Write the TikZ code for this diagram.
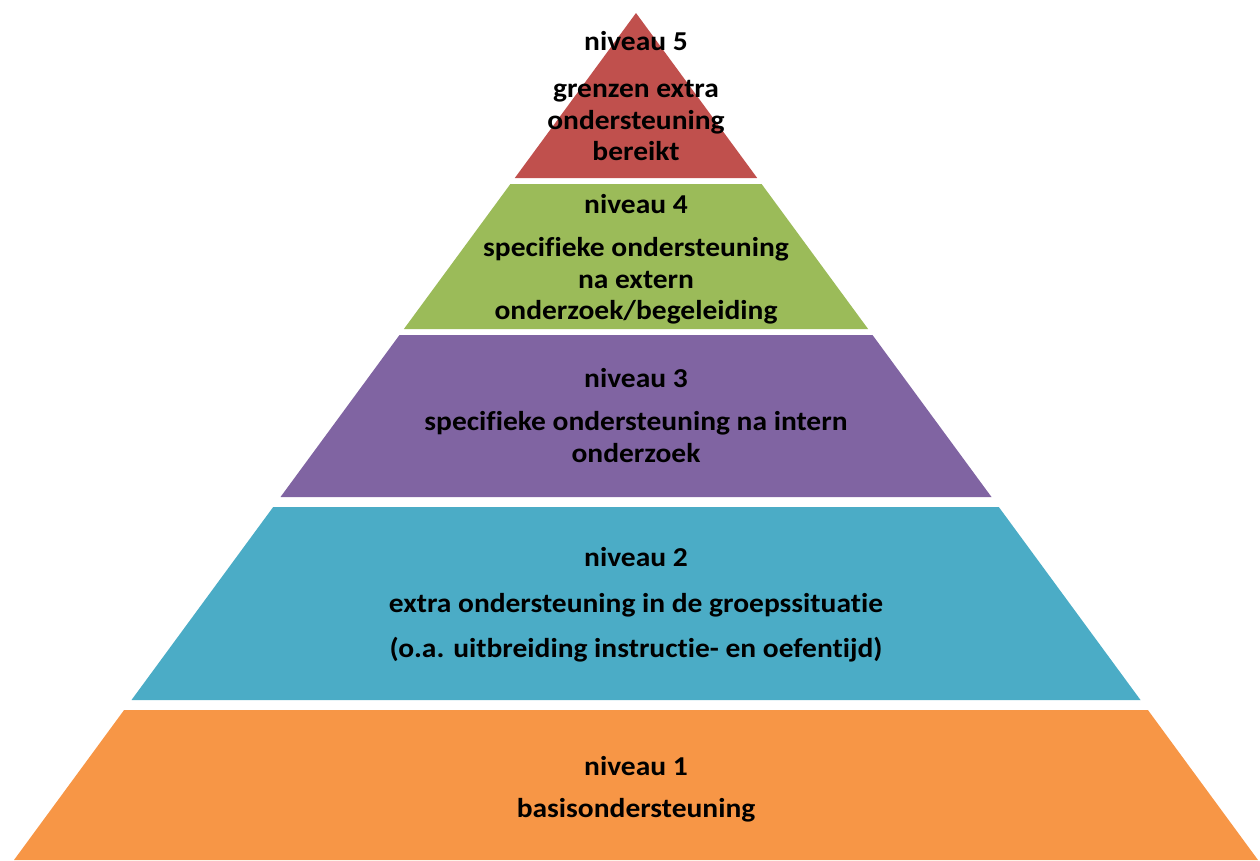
\documentclass[tikz,border=0pt]{standalone}
\usepackage{fontspec}
\setmainfont{Carlito}[Ligatures=NoCommon, FakeStretch=1.08]
\definecolor{lvred}{HTML}{C0504D}
\definecolor{lvgreen}{HTML}{9BBB59}
\definecolor{lvpurple}{HTML}{8064A2}
\definecolor{lvblue}{HTML}{4BACC6}
\definecolor{lvorange}{HTML}{F79646}
\tikzset{
  lbl/.style={anchor=base, align=center, inner sep=0pt, font=\fontsize{27.3}{32}\selectfont\bfseries, text=black},
}
\begin{document}
\begin{tikzpicture}[x=1pt,y=-1pt]
\useasboundingbox (0,0) rectangle (1260,860);
% layers
\fill[lvred] (636,13) -- (757.2,178) -- (514.8,178) -- cycle;
\fill[lvgreen] (510.4,184) -- (761.6,184) -- (868.1,329) -- (403.9,329) -- cycle;
\fill[lvpurple] (399.5,335) -- (872.5,335) -- (991.5,497) -- (280.5,497) -- cycle;
\fill[lvblue] (273.2,507) -- (998.8,507) -- (1140.5,700) -- (131.5,700) -- cycle;
\fill[lvorange] (124.1,710) -- (1147.9,710) -- (1258,860) -- (14,860) -- cycle;
% texts
\node[lbl] (n5) at (636,50) {niveau 5};
\node[lbl] (d5a) at (636,97) {grenzen extra};
\node[lbl] (d5b) at (636,129) {ondersteuning};
\node[lbl] (d5c) at (636,160) {bereikt};
\node[lbl] (n4) at (636,213) {niveau 4};
\node[lbl] (d4a) at (636,256) {specifieke ondersteuning};
\node[lbl] (d4b) at (636,288) {na extern};
\node[lbl] (d4c) at (636,319) {onderzoek/begeleiding};
\node[lbl] (n3) at (636,387) {niveau 3};
\node[lbl] (d3a) at (636,430) {specifieke ondersteuning na intern};
\node[lbl] (d3b) at (636,462) {onderzoek};
\node[lbl] (n2) at (636,566) {niveau 2};
\node[lbl] (d2a) at (636,612) {extra ondersteuning in de groepssituatie};
\node[lbl] (d2b) at (636,657) {(o.a. uitbreiding instructie- en oefentijd)};
\node[lbl] (n1) at (636,775) {niveau 1};
\node[lbl] (d1) at (636,817) {basisondersteuning};
\end{tikzpicture}
\end{document}
